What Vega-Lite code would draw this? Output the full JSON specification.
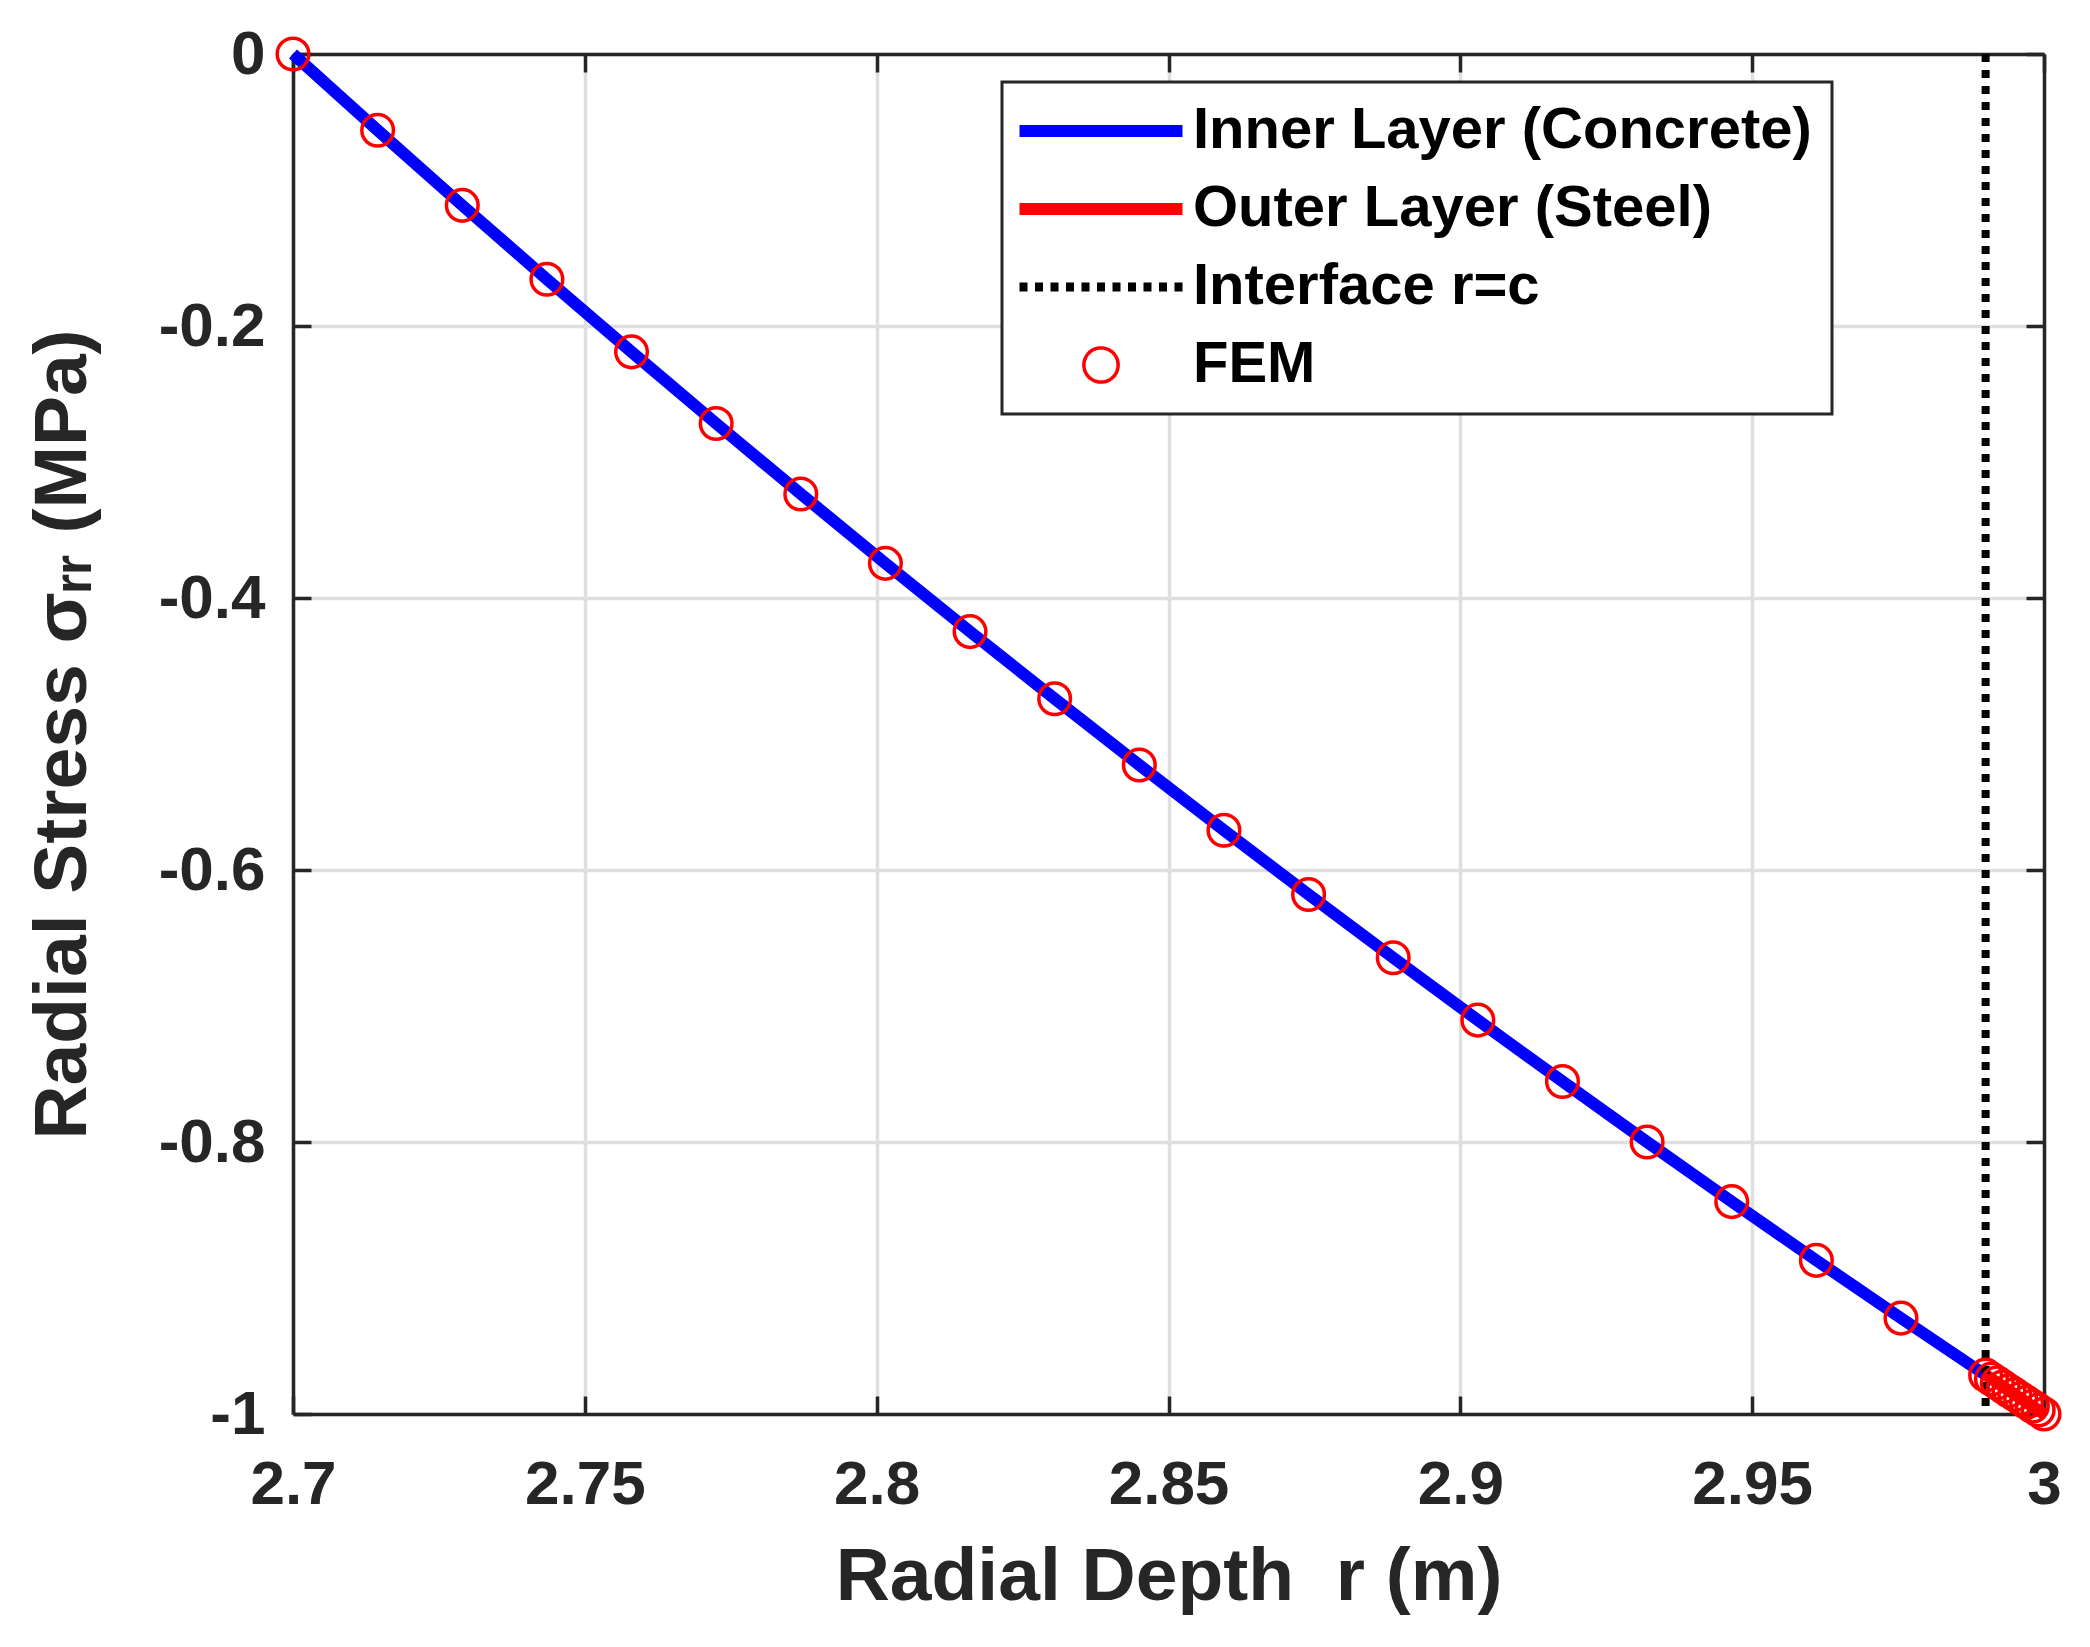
{
  "$schema": "https://vega.github.io/schema/vega-lite/v6.json",
  "width": 1751,
  "height": 1360,
  "autosize": {"type": "none"},
  "padding": {"left": 293, "top": 54, "right": 46, "bottom": 233},
  "background": "white",
  "config": {
    "view": {"stroke": null},
    "font": "Liberation Sans",
    "axis": {
      "domainColor": "#262626",
      "domainWidth": 3.5,
      "tickColor": "#262626",
      "tickWidth": 3.5,
      "tickSize": -18,
      "labelFont": "Liberation Sans",
      "labelFontWeight": "bold",
      "labelFontSize": 62,
      "labelColor": "#262626",
      "labelFlush": false,
      "labelOverlap": false,
      "titleFont": "Liberation Sans",
      "titleFontWeight": "bold",
      "titleFontSize": 75,
      "titleColor": "#262626",
      "gridColor": "#dfdfdf",
      "gridWidth": 3.5
    }
  },
  "datasets": {
    "concrete": [
      {"r": 2.7, "s": 0},
      {"r": 2.7145, "s": -0.0561},
      {"r": 2.729, "s": -0.1113},
      {"r": 2.7435, "s": -0.1656},
      {"r": 2.758, "s": -0.219},
      {"r": 2.7725, "s": -0.2717},
      {"r": 2.787, "s": -0.3235},
      {"r": 2.8015, "s": -0.3745},
      {"r": 2.816, "s": -0.4247},
      {"r": 2.8305, "s": -0.4741},
      {"r": 2.845, "s": -0.5228},
      {"r": 2.8595, "s": -0.5708},
      {"r": 2.874, "s": -0.618},
      {"r": 2.8885, "s": -0.6645},
      {"r": 2.903, "s": -0.7104},
      {"r": 2.9175, "s": -0.7555},
      {"r": 2.932, "s": -0.8},
      {"r": 2.9465, "s": -0.8438},
      {"r": 2.961, "s": -0.887},
      {"r": 2.9755, "s": -0.9295},
      {"r": 2.99, "s": -0.9714}
    ],
    "steel": [
      {"r": 2.99, "s": -0.9714},
      {"r": 2.995, "s": -0.9857},
      {"r": 3.0, "s": -1.0}
    ],
    "iface": [{"c": 2.99}],
    "fem": [
      {"r": 2.7, "s": 0},
      {"r": 2.7145, "s": -0.0561},
      {"r": 2.729, "s": -0.1113},
      {"r": 2.7435, "s": -0.1656},
      {"r": 2.758, "s": -0.219},
      {"r": 2.7725, "s": -0.2717},
      {"r": 2.787, "s": -0.3235},
      {"r": 2.8015, "s": -0.3745},
      {"r": 2.816, "s": -0.4247},
      {"r": 2.8305, "s": -0.4741},
      {"r": 2.845, "s": -0.5228},
      {"r": 2.8595, "s": -0.5708},
      {"r": 2.874, "s": -0.618},
      {"r": 2.8885, "s": -0.6645},
      {"r": 2.903, "s": -0.7104},
      {"r": 2.9175, "s": -0.7555},
      {"r": 2.932, "s": -0.8},
      {"r": 2.9465, "s": -0.8438},
      {"r": 2.961, "s": -0.887},
      {"r": 2.9755, "s": -0.9295},
      {"r": 2.99, "s": -0.9714},
      {"r": 2.991, "s": -0.9743},
      {"r": 2.992, "s": -0.9771},
      {"r": 2.993, "s": -0.98},
      {"r": 2.994, "s": -0.9829},
      {"r": 2.995, "s": -0.9857},
      {"r": 2.996, "s": -0.9886},
      {"r": 2.997, "s": -0.9914},
      {"r": 2.998, "s": -0.9943},
      {"r": 2.999, "s": -0.9971},
      {"r": 3.0, "s": -1.0}
    ]
  },
  "resolve": {"axis": {"x": "independent", "y": "independent"}},
  "layer": [
    {
      "data": {"name": "concrete"},
      "mark": {"type": "line", "strokeWidth": 12, "strokeCap": "butt", "clip": false},
      "encoding": {
        "x": {
          "field": "r",
          "type": "quantitative",
          "scale": {"domain": [2.7, 3.0], "nice": false, "zero": false},
          "axis": {
            "orient": "bottom",
            "values": [2.7, 2.75, 2.8, 2.85, 2.9, 2.95, 3],
            "labelExpr": "'' + datum.value",
            "labelPadding": 58,
            "title": "Radial Depth\u00a0\u00a0r (m)",
            "titlePadding": 25,
            "grid": true
          }
        },
        "y": {
          "field": "s",
          "type": "quantitative",
          "scale": {"domain": [-1, 0], "nice": false, "zero": false},
          "axis": {
            "orient": "left",
            "values": [0, -0.2, -0.4, -0.6, -0.8, -1],
            "labelExpr": "'' + datum.value",
            "labelPadding": 46,
            "title": "Radial Stress σᵣᵣ (MPa)",
            "titlePadding": 57,
            "grid": true
          }
        },
        "color": {
          "datum": "Inner Layer (Concrete)",
          "type": "nominal",
          "scale": {
            "domain": ["Inner Layer (Concrete)", "Outer Layer (Steel)", "Interface r=c", "FEM"],
            "range": ["#0000ff", "#ff0000", "#000000", "#ff0000"]
          },
          "legend": {
            "title": null,
            "orient": "none",
            "legendX": 709,
            "legendY": 28,
            "fillColor": "white",
            "strokeColor": "#262626",
            "padding": 20,
            "rowPadding": 20,
            "symbolType": "stroke",
            "symbolSize": 26569,
            "symbolStrokeWidth": 12,
            "symbolOffset": 50,
            "labelOffset": 63,
            "labelFont": "Liberation Sans",
            "labelFontWeight": "bold",
            "labelFontSize": 58,
            "labelColor": "#000000",
            "labelLimit": 1000,
            "encode": {
              "legend": {
                "update": {"strokeWidth": {"value": 3}}
              },
              "symbols": {
                "enter": {
                  "strokeWidth": {"signal": "datum.value === 'FEM' ? 3.5 : (datum.value === 'Interface r=c' ? 9 : 12)"}
                },
                "update": {
                  "shape": {"signal": "datum.value === 'FEM' ? 'M0.21,0A0.21,0.21 0 1,1 -0.21,0A0.21,0.21 0 1,1 0.21,0Z' : 'stroke'"},
                  "strokeDash": {"signal": "datum.value === 'Interface r=c' ? [8, 7.5] : [1, 0]"},
                  "fill": {"value": "transparent"},
                  "stroke": {"signal": "scale('color', datum.value)"},
                  "opacity": {"value": 1}
                }
              }
            }
          }
        }
      }
    },
    {
      "data": {"name": "steel"},
      "mark": {"type": "line", "strokeWidth": 12, "strokeCap": "butt", "color": "#ff0000"},
      "encoding": {
        "x": {
          "field": "r",
          "type": "quantitative",
          "axis": {
            "orient": "top",
            "values": [2.7, 2.75, 2.8, 2.85, 2.9, 2.95, 3],
            "labels": false,
            "title": null,
            "grid": false
          }
        },
        "y": {
          "field": "s",
          "type": "quantitative",
          "axis": {
            "orient": "right",
            "values": [0, -0.2, -0.4, -0.6, -0.8, -1],
            "labels": false,
            "title": null,
            "grid": false
          }
        },
        "color": {"datum": "Outer Layer (Steel)", "type": "nominal"}
      }
    },
    {
      "data": {"name": "iface"},
      "mark": {"type": "rule", "strokeWidth": 8, "strokeDash": [8, 8], "color": "#000000"},
      "encoding": {
        "x": {"field": "c", "type": "quantitative", "axis": null},
        "color": {"datum": "Interface r=c", "type": "nominal"}
      }
    },
    {
      "data": {"name": "fem"},
      "mark": {"type": "point", "shape": "circle", "filled": false, "size": 1000, "strokeWidth": 3.5, "opacity": 1, "color": "#ff0000"},
      "encoding": {
        "x": {"field": "r", "type": "quantitative", "axis": null},
        "y": {"field": "s", "type": "quantitative", "axis": null},
        "color": {"datum": "FEM", "type": "nominal"}
      }
    }
  ]
}
